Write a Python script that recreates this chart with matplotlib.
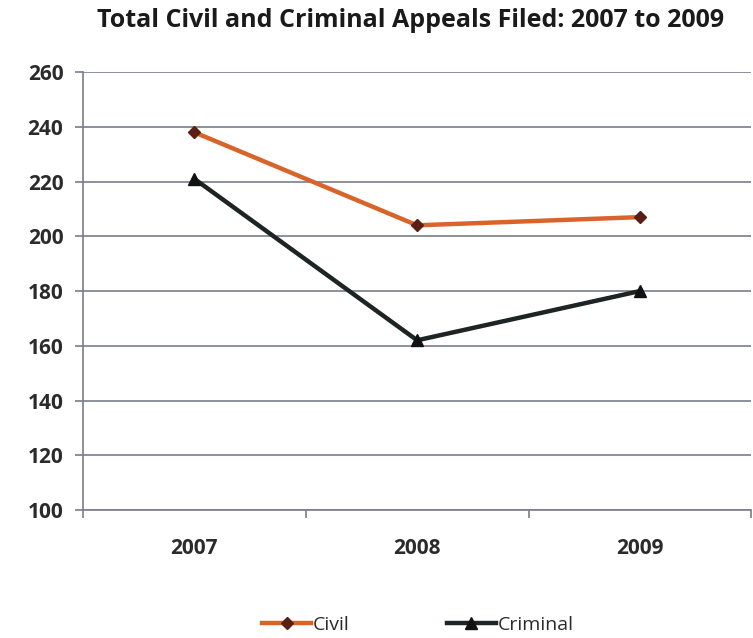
import matplotlib
matplotlib.use("Agg")
import matplotlib.pyplot as plt

years = ["2007", "2008", "2009"]
civil = [238, 204, 207]
criminal = [221, 162, 180]
yticks = [100, 120, 140, 160, 180, 200, 220, 240, 260]

plt.rcParams['font.family'] = ['Open Sans', 'DejaVu Sans']
txt = '#2b2b2b'
axc = '#7a7d8c'
fig = plt.figure(figsize=(7.53, 6.38), dpi=100)
ax = fig.add_axes([0.110, 0.2006, 0.888, 0.6865])

x = list(range(len(years)))
ax.plot(x, civil, color='#d9642a', lw=3.2, marker='D', ms=6.5,
        mfc='#5a1e12', mec='#5a1e12', zorder=3, label='Civil')
ax.plot(x, criminal, color='#1c2424', lw=3.2, marker='^', ms=8,
        mfc='#111111', mec='#111111', zorder=3, label='Criminal')

ax.set_xlim(-0.5, 2.5)
ax.set_ylim(100, 260)
ax.set_yticks(yticks)
ax.set_xticks(x)
ax.set_xticklabels(years)
ax.set_xticks([-0.5, 0.5, 1.5, 2.5], minor=True)
ax.grid(axis='y', color=axc, lw=1.2)
ax.set_axisbelow(True)
for s in ['top', 'right']:
    ax.spines[s].set_visible(False)
ax.spines['left'].set_color(axc)
ax.spines['bottom'].set_color(axc)
ax.spines['left'].set_linewidth(1.2)
ax.spines['bottom'].set_linewidth(1.2)
ax.tick_params(axis='y', length=6, width=1.2, color=axc, labelsize=15, labelcolor=txt, pad=8)
ax.tick_params(axis='x', which='major', length=0, labelsize=15, labelcolor=txt, pad=20)
ax.tick_params(axis='x', which='minor', length=6, width=1.2, color=axc)
for lab in ax.get_xticklabels() + ax.get_yticklabels():
    lab.set_fontweight('bold')

fig.text(0.545, 0.968, "Total Civil and Criminal Appeals Filed: 2007 to 2009",
         ha='center', va='center', fontsize=18, fontweight='bold', color='#1a1a1a')

fig.legend(loc='center', bbox_to_anchor=(0.555, 0.02), ncol=2, frameon=False,
           fontsize=14, labelcolor=txt, handlelength=2.5, columnspacing=5,
           handletextpad=0.1)

fig.savefig('out.png', dpi=100)
